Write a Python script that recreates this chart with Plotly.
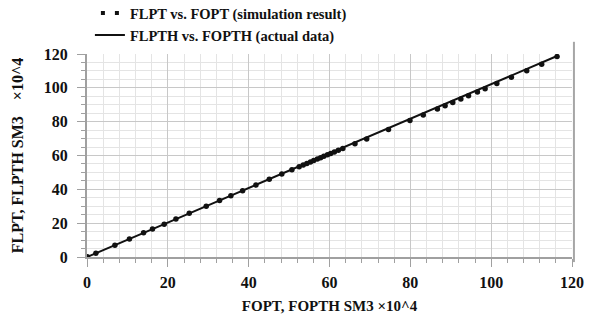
import plotly.graph_objects as go

# Simulation result (FLPT vs FOPT), units x10^4 SM3
fopt = [0.1, 2.2, 6.9, 10.5, 14.0, 16.2, 19.1, 22.0, 25.3, 29.5, 32.8, 35.6, 38.5, 41.8,
        45.1, 48.2, 50.7, 52.5, 53.5, 54.4, 55.3, 56.1, 57.0, 57.8, 58.6, 59.5, 60.3, 61.2,
        62.2, 63.3, 66.3, 69.2, 74.6, 79.9, 83.2, 86.7, 88.6, 90.5, 92.5, 94.4, 96.6, 98.5,
        101.4, 105.0, 108.8, 112.5, 116.3]
flpt = [0.1, 2.2, 7.0, 10.7, 14.3, 16.5, 19.4, 22.4, 25.8, 30.0, 33.4, 36.2, 39.2, 42.5,
        45.9, 49.0, 51.6, 53.4, 54.4, 55.3, 56.2, 57.0, 57.9, 58.7, 59.5, 60.4, 61.2, 62.1,
        63.1, 64.1, 66.9, 69.8, 75.3, 80.7, 84.0, 87.5, 89.4, 91.3, 93.4, 95.3, 97.6, 99.5,
        102.5, 106.2, 110.1, 114.0, 118.5]

# Actual data (FLPTH vs FOPTH)
fopth = [0, 2.2, 10.5, 22.0, 35.6, 48.2, 57.0, 66.3, 79.9, 92.5, 105.0, 116.3]
flpth = [0, 2.2, 10.7, 22.4, 36.3, 49.2, 58.2, 67.7, 81.6, 94.5, 107.2, 118.8]

x_ticks = [0, 20, 40, 60, 80, 100, 120]
y_ticks = [0, 20, 40, 60, 80, 100, 120]

FONT = "Liberation Serif"

fig = go.Figure()
fig.add_trace(go.Scatter(x=fopth, y=flpth, mode="lines",
                         line=dict(color="#111111", width=2),
                         name="FLPTH vs. FOPTH (actual data)", showlegend=False))
fig.add_trace(go.Scatter(x=fopt, y=flpt, mode="markers",
                         marker=dict(color="#111111", size=5.5),
                         name="FLPT vs. FOPT (simulation result)", showlegend=False))
# legend entries
fig.add_trace(go.Scatter(x=[None], y=[None], mode="lines",
                         line=dict(color="#111111", width=4, dash="0px,6px,4px,10px,4px,40px"),
                         name="FLPT vs. FOPT (simulation result)", legendgroup="a"))
fig.add_trace(go.Scatter(x=[None], y=[None], mode="lines",
                         line=dict(color="#111111", width=2),
                         name="FLPTH vs. FOPTH (actual data)", legendgroup="b"))

axis_common = dict(
    showline=True, linecolor="#a0a0a0", linewidth=2,
    gridcolor="#c8c8c8", gridwidth=1,
    ticks="outside", ticklen=8, tickcolor="#a0a0a0", tickwidth=1,
    tickfont=dict(family=FONT, size=16, color="#111111", weight="bold"),
    zeroline=False, mirror=False, automargin=False,
)

fig.update_xaxes(range=[0, 120], tickvals=x_ticks, ticktext=[str(v) for v in x_ticks],
                 ticklabelstandoff=2,
                 title=dict(text="FOPT, FOPTH SM3 ×10^4",
                            font=dict(family=FONT, size=15, color="#111111", weight="bold"),
                            standoff=10),
                 minor=dict(dtick=4, showgrid=True, gridcolor="#e4e4e4", gridwidth=1,
                            ticks="outside", ticklen=4, tickcolor="#a0a0a0"),
                 **axis_common)
fig.update_yaxes(range=[0, 120], tickvals=y_ticks, ticktext=[str(v) for v in y_ticks],
                 ticklabelstandoff=6,
                 title=dict(text="FLPT, FLPTH SM3    ×10^4",
                            font=dict(family=FONT, size=16, color="#111111", weight="bold"),
                            standoff=16),
                 minor=dict(dtick=5, showgrid=True, gridcolor="#e4e4e4", gridwidth=1,
                            ticks="outside", ticklen=4, tickcolor="#a0a0a0"),
                 **axis_common)

fig.add_shape(type="line", xref="paper", yref="paper", x0=1.004, x1=1.004,
              y0=-0.025, y1=1.06, line=dict(color="#a6a6a6", width=2))

fig.update_layout(
    width=591, height=328,
    margin=dict(l=87, r=19, t=54, b=71, autoexpand=False),
    paper_bgcolor="white", plot_bgcolor="white",
    font=dict(family=FONT, color="#111111"),
    legend=dict(x=0.006, y=1.28, xanchor="left", yanchor="top",
                bgcolor="rgba(0,0,0,0)", traceorder="grouped", tracegroupgap=0,
                font=dict(family=FONT, size=14.5, color="#111111", weight="bold"),
                itemwidth=30),
)

fig.write_html("out.html", config={"displayModeBar": False},
               post_script="document.body.style.margin='0px';")
